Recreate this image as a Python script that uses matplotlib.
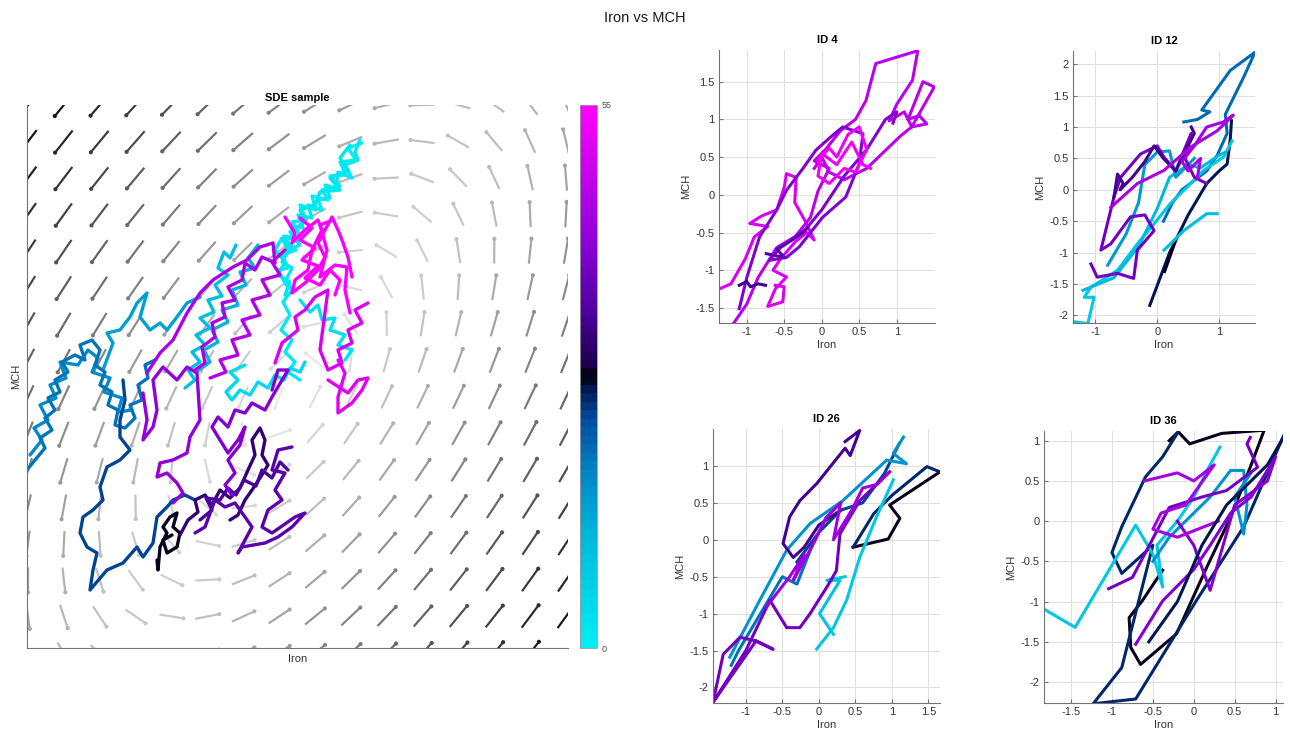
import numpy as np
import matplotlib
matplotlib.use('Agg')
import matplotlib.pyplot as plt
from matplotlib.colors import LinearSegmentedColormap

plt.rcParams['font.family'] = ['Liberation Sans', 'DejaVu Sans']

# ---- data -------------------------------------------------------------
t_max = 55

# colormap anchors (cyan -> blue -> black -> purple -> magenta)
cmap_anchors = [(0.00, (0.00, 0.93, 0.96)), (0.20, (0.00, 0.72, 0.86)),
                (0.32, (0.00, 0.52, 0.78)), (0.42, (0.00, 0.30, 0.62)),
                (0.48, (0.00, 0.08, 0.30)), (0.50, (0.00, 0.00, 0.00)),
                (0.52, (0.10, 0.00, 0.30)), (0.62, (0.30, 0.00, 0.62)),
                (0.75, (0.55, 0.00, 0.85)), (0.88, (0.78, 0.00, 0.93)),
                (1.00, (1.00, 0.00, 1.00))]

# drift of the SDE (linear), read from the direction field
drift = [[-1.13, 1.59], [-2.41, 1.13]]
drift_center = [-0.1, -0.15]

# SDE sample path, pieces of (time, x, y)
sde_pieces = [
    (0, [0.62, 0.48, 0.56, 0.40, 0.46, 0.30, 0.40, 0.22, 0.28, 0.12, 0.16, 0.00, 0.06, -0.08, 0.00, -0.14, -0.04,
         -0.18, -0.12, -0.22, -0.14],
        [2.37, 2.32, 2.20, 2.18, 2.05, 2.04, 1.94, 1.90, 1.80, 1.84, 1.70, 1.75, 1.60, 1.58, 1.45, 1.40, 1.30,
         1.25, 1.12, 1.10, 0.95]),
    (1, [0.60, 0.55, 0.58, 0.45, 0.52, 0.38, 0.36, 0.25, 0.30, 0.18, 0.22, 0.08, 0.12, -0.02, 0.03, -0.10, -0.04, -0.16,
         -0.10, -0.18, -0.08, -0.14, -0.08, -0.17, -0.10, -0.19, -0.08, -0.15, -0.05, -0.12, 0.00],
        [2.40, 2.28, 2.20, 2.15, 2.02, 2.08, 1.92, 1.95, 1.82, 1.80, 1.70, 1.75, 1.62, 1.65, 1.52, 1.55, 1.42, 1.44,
         1.32, 1.18, 1.12, 1.00, 0.90, 0.78, 0.65, 0.50, 0.40, 0.28, 0.18, 0.08, 0.00]),
    (2, [0.50, 0.40, 0.48, 0.30, 0.40, 0.20, 0.15, 0.00, 0.05, -0.10, 0.00, -0.12, -0.18, -0.25, -0.15, -0.22, -0.10, -0.15],
        [2.35, 2.22, 2.10, 2.02, 1.90, 1.88, 1.75, 1.70, 1.58, 1.48, 1.35, 1.30, 1.42, 1.30, 1.18, 1.05, 0.98, 0.85]),
    (3, [0.00, 0.10, 0.18, 0.22, 0.35, 0.30, 0.45, 0.38, 0.52, 0.45],
        [0.80, 0.68, 0.75, 0.60, 0.62, 0.50, 0.45, 0.35, 0.30, 0.20]),
    (5, [0.05, 0.00, -0.10, -0.16, -0.25, -0.32, -0.42, -0.50, -0.60, -0.68, -0.74, -0.62, -0.70, -0.55],
        [0.18, 0.08, 0.12, 0.00, 0.05, -0.08, -0.02, -0.15, -0.10, -0.20, -0.12, 0.00, 0.08, 0.15]),
    (10, [-0.64, -0.70, -0.76, -0.82, -0.72, -0.85, -0.78, -0.92, -0.86, -1.00, -0.90, -1.04, -0.95, -1.08, -1.00, -1.12, -1.05, -1.15],
         [1.35, 1.22, 1.28, 1.12, 1.05, 0.95, 0.84, 0.80, 0.68, 0.62, 0.52, 0.45, 0.35, 0.28, 0.18, 0.10, 0.00, -0.08]),
    (12, [-0.42, -0.52, -0.45, -0.60, -0.54, -0.68, -0.62, -0.78, -0.72, -0.88, -0.82, -0.96, -0.90, -1.04],
         [1.35, 1.22, 1.12, 1.08, 0.95, 0.90, 0.75, 0.70, 0.58, 0.50, 0.38, 0.30, 0.18, 0.08]),
    (14, [-1.97, -1.87, -1.93, -1.80, -1.70, -1.63, -1.53, -1.60, -1.50, -1.40, -1.33, -1.23, -1.13, -1.00],
         [0.10, 0.37, 0.47, 0.50, 0.63, 0.77, 0.87, 0.63, 0.50, 0.57, 0.50, 0.63, 0.77, 0.83]),
    (17, [-2.70, -2.58, -2.66, -2.52, -2.60, -2.44, -2.50, -2.34, -2.40, -2.22, -2.12, -2.02, -2.08, -1.90, -1.96,
          -1.78, -1.82, -1.68],
         [-0.75, -0.60, -0.48, -0.40, -0.25, -0.18, -0.05, 0.02, 0.18, 0.15, 0.30, 0.22, 0.08, 0.02, -0.12,
          -0.18, -0.32, -0.30]),
    (19, [-2.73, -2.65, -2.55, -2.60, -2.48, -2.55, -2.45, -2.52, -2.40, -2.45, -2.32, -2.38, -2.25, -2.15, -2.20, -2.08,
          -2.00, -2.05, -1.95, -2.00, -1.88, -1.92, -1.82, -1.85, -1.75, -1.65, -1.70, -1.58, -1.62, -1.52, -1.55, -1.45],
         [-0.90, -0.80, -0.68, -0.58, -0.50, -0.38, -0.30, -0.18, -0.12, 0.00, 0.08, 0.18, 0.25, 0.20, 0.35, 0.40,
          0.30, 0.15, 0.08, -0.05, -0.12, -0.25, -0.30, -0.45, -0.48, -0.38, -0.25, -0.20, -0.05, 0.02, 0.15, 0.20]),
    (24, [-1.77, -1.75, -1.80, -1.80, -1.70, -1.80, -1.93, -2.00, -1.97, -2.07, -2.17, -2.20, -2.13, -2.03, -2.07, -2.10,
          -1.93, -1.77, -1.63, -1.57, -1.47, -1.43, -1.33, -1.27, -1.15, -1.05],
         [0.00, -0.20, -0.40, -0.57, -0.70, -0.80, -0.87, -1.07, -1.20, -1.30, -1.37, -1.53, -1.67, -1.73, -1.90, -2.10,
          -1.90, -1.83, -1.67, -1.77, -1.63, -1.37, -1.27, -1.20, -1.15, -1.20]),
    (27.5, [-1.43, -1.42, -1.40, -1.33, -1.37, -1.30, -1.23, -1.27, -1.20, -1.23, -1.33, -1.37, -1.28],
           [-1.80, -1.90, -1.67, -1.53, -1.47, -1.37, -1.33, -1.47, -1.53, -1.67, -1.73, -1.60, -1.55]),
    (31, [-1.20, -1.12, -1.02, -1.05, -0.95, -0.88, -0.80, -0.70, -0.60, -0.52, -0.45, -0.48, -0.40, -0.35, -0.38,
          -0.32, -0.40, -0.48, -0.55, -0.62, -0.70],
         [-1.55, -1.40, -1.32, -1.20, -1.15, -1.25, -1.10, -1.18, -1.08, -0.90, -0.75, -0.60, -0.48, -0.60, -0.75,
          -0.85, -0.98, -1.10, -1.20, -1.35, -1.40]),
    (34, [-1.00, -0.88, -0.94, -0.80, -0.72, -0.64, -0.56, -0.44, -0.38, -0.28, -0.20, -0.12],
         [-1.40, -1.30, -1.18, -1.20, -1.08, -1.15, -1.00, -1.06, -0.90, -0.98, -0.82, -0.90]),
    (36, [-1.05, -0.95, -0.85, -0.75, -0.65, -0.55, -0.48, -0.55, -0.62, -0.58, -0.35, -0.22, -0.08, 0.05, -0.05,
          -0.28, -0.38, -0.32, -0.18, -0.25, -0.15, -0.28, -0.22, -0.08],
         [-1.53, -1.47, -1.20, -1.27, -1.23, -1.37, -1.47, -1.60, -1.73, -1.67, -1.63, -1.57, -1.47, -1.33, -1.37,
          -1.53, -1.47, -1.30, -1.20, -1.10, -0.93, -0.90, -0.70, -0.67]),
    (40, [-0.68, -0.75, -0.65, -0.72, -0.60, -0.55, -0.62, -0.72, -0.88, -0.82, -0.72, -0.65, -0.55, -0.48, -0.35,
          -0.28, -0.12, -0.22, -0.28],
         [-1.15, -1.05, -0.93, -0.80, -0.65, -0.47, -0.60, -0.73, -0.47, -0.37, -0.47, -0.30, -0.33, -0.23, -0.30,
          -0.17, 0.10, 0.10, -0.10]),
    (42, [-1.57, -1.53, -1.57, -1.47, -1.43, -1.47, -1.37, -1.23, -1.13, -1.03, -1.00, -1.10, -1.13, -1.27, -1.40,
          -1.43, -1.33, -1.23, -1.17, -1.27],
         [-0.13, -0.40, -0.60, -0.47, -0.30, 0.00, 0.13, 0.00, 0.13, 0.07, -0.40, -0.57, -0.73, -0.80, -0.83,
          -0.97, -0.93, -1.03, -1.13, -1.23]),
    (45, [-1.53, -1.40, -1.27, -1.13, -1.00, -0.87, -0.67, -0.53, -0.40, -0.27, -0.25, -0.38, -0.45, -0.55, -0.58,
          -0.72, -0.65, -0.78, -0.75, -0.88, -0.85, -0.98, -0.95, -1.05],
         [0.07, 0.27, 0.40, 0.67, 0.87, 1.00, 1.13, 1.20, 1.33, 1.37, 1.17, 1.23, 1.10, 1.17, 1.00,
          0.93, 0.80, 0.77, 0.63, 0.57, 0.43, 0.33, 0.17, 0.10]),
    (46, [-0.15, -0.28, -0.20, -0.38, -0.30, -0.48, -0.40, -0.58, -0.50, -0.68, -0.62, -0.80, -0.74, -0.90],
         [1.30, 1.18, 1.05, 1.00, 0.85, 0.80, 0.65, 0.60, 0.45, 0.40, 0.25, 0.20, 0.08, 0.02]),
    (50, [0.68, 0.55, 0.62, 0.48, 0.52, 0.38, 0.42, 0.28, 0.20, 0.28, 0.15, 0.05, -0.05, -0.02, -0.18, -0.25],
         [0.77, 0.70, 0.57, 0.50, 0.37, 0.30, 0.17, 0.10, 0.30, 0.90, 0.83, 0.70, 0.63, 0.50, 0.37, 0.17]),
    (51, [0.38, 0.45, 0.38, 0.38, 0.52, 0.62, 0.68, 0.58, 0.48, 0.28],
         [0.20, 0.07, -0.17, -0.33, -0.23, -0.10, 0.02, 0.00, -0.13, 0.00]),
    (54, [-0.15, -0.05, -0.08, 0.05, 0.18, 0.22, 0.12, 0.08, -0.05, -0.08, 0.05, 0.18, 0.25, 0.18, 0.32, 0.38, 0.42,
          0.48, 0.52],
         [1.63, 1.47, 1.37, 1.50, 1.60, 1.50, 1.30, 1.10, 1.00, 0.87, 0.97, 1.10, 1.23, 1.37, 1.63, 1.50, 1.40,
          1.23, 1.03]),
    (55, [0.33, 0.20, 0.27, 0.20, 0.35, 0.47, 0.45, 0.50],
         [1.60, 1.55, 1.30, 1.03, 1.15, 1.13, 0.90, 0.67]),
    (55, [0.00, 0.12, 0.00, 0.15, 0.02, 0.18, 0.05, 0.20, 0.30, 0.40, 0.35],
         [1.62, 1.52, 1.40, 1.32, 1.20, 1.14, 1.02, 0.95, 1.10, 1.00, 0.85]),
]

# patient trajectories, pieces of (time, Iron, MCH)
id4_pieces = [
    (50, [-1.37, -1.21, -1.02, -0.90, -0.72, -0.96, -0.80, -0.60, -0.50, -0.47, -0.34, -0.36, -0.22, -0.10, -0.20,
          -0.35, -0.55, -0.65, -0.47, -0.62, -0.72, -0.52, -0.50, -0.62],
         [-1.25, -1.18, -0.85, -0.56, -0.42, -0.38, -0.28, -0.20, 0.10, 0.28, 0.23, -0.10, -0.35, -0.60, -0.50,
          -0.62, -0.85, -1.00, -1.09, -1.25, -1.48, -1.42, -1.22, -1.20]),
    (47, [-1.18, -1.00, -0.85, -0.60, -0.35, -0.15, -0.05, 0.10, -0.10, 0.05, 0.25, 0.45, 0.59, 0.72, 1.28, 1.21,
          1.00, 0.90, 1.10, 1.20, 1.40, 1.30, 1.15, 1.35, 1.50, 1.20, 1.05, 0.60, 0.30, 0.10, 0.00, -0.10],
         [-1.71, -1.45, -1.10, -0.70, -0.55, -0.30, 0.05, 0.35, 0.45, 0.60, 0.85, 1.00, 1.25, 1.74, 1.91, 1.52,
          1.20, 0.98, 1.10, 0.90, 0.94, 1.05, 1.00, 1.50, 1.43, 0.90, 0.78, 0.35, 0.20, 0.30, 0.50, 0.35]),
    (40, [-1.10, -1.00, -0.83, -0.60, -0.47, -0.25, -0.08, 0.10, 0.28, 0.55, 0.50, 0.32, 0.01, -0.30, -0.47, -0.70,
          -0.55, -0.25, 0.00, 0.30, 0.60, 0.85, 1.00, 0.95],
         [-1.51, -1.10, -0.56, -0.20, 0.06, 0.35, 0.59, 0.75, 0.90, 0.81, 0.41, -0.03, -0.30, -0.69, -0.83, -0.87,
          -0.70, -0.50, -0.20, 0.25, 0.60, 1.00, 1.10, 0.95]),
    (33, [-1.10, -1.00, -0.95, -0.85, -0.75], [-1.20, -1.15, -1.22, -1.18, -1.20]),
    (36, [-0.74, -0.65, -0.50, -0.60, -0.40, -0.20], [-0.78, -0.80, -0.83, -0.72, -0.60, -0.45]),
    (53, [-0.05, 0.10, 0.20, 0.35, 0.50, 0.60, 0.45, 0.30, 0.10, -0.05, 0.00, 0.20, 0.40, 0.55, 0.65],
         [0.45, 0.62, 0.50, 0.80, 0.90, 0.60, 0.30, 0.35, 0.15, 0.25, 0.55, 0.40, 0.70, 0.40, 0.35]),
]
id12_pieces = [
    (20, [0.43, 0.65, 0.85, 0.72, 1.18, 1.58, 1.40, 1.10, 1.13, 0.97, 0.80, 0.60, 0.40, 0.25, 0.10],
         [1.08, 1.12, 1.24, 1.27, 1.90, 2.19, 1.80, 1.20, 0.90, 0.55, 0.30, 0.15, 0.00, -0.20, -0.50]),
    (26, [-0.12, 0.20, 0.50, 0.80, 1.00, 1.13, 1.18, 1.20], [-1.84, -1.00, -0.40, 0.10, 0.30, 0.41, 0.80, 1.10]),
    (27.5, [0.12, 0.30], [-1.30, -0.80]),
    (8, [-1.34, -1.12, -1.02, -1.18, -1.07, -0.64, -0.32, -0.05, 0.21, 0.54, 0.75, 1.07, 1.21],
        [-2.10, -2.13, -1.71, -1.71, -1.55, -1.28, -0.86, -0.54, -0.22, 0.10, 0.31, 0.52, 0.78]),
    (10, [0.11, 0.43, 0.80, 0.97], [-0.96, -0.65, -0.38, -0.38]),
    (11, [-1.20, -0.70, -0.30, 0.00, 0.20, 0.50, 0.70, 1.00, 1.10], [-1.60, -1.40, -0.90, -0.30, 0.20, 0.40, 0.35, 0.55, 0.60]),
    (15, [-0.80, -0.50, -0.30, -0.20, 0.00, 0.20, 0.30, 0.50, 0.60], [-1.20, -0.70, -0.20, 0.40, 0.60, 0.62, 0.20, 0.40, 0.50]),
    (38, [-1.07, -0.97, -0.64, -0.38, -0.32, -0.05, -0.20, -0.43, -0.75, -0.91, -0.70, -0.59, -0.27, 0.00, 0.11, 0.30,
          0.40, 0.55, 0.45, 0.60, 0.80],
         [-1.18, -1.39, -1.33, -1.41, -0.96, -0.65, -0.40, -0.43, -0.86, -0.96, -0.12, 0.20, 0.57, 0.70, 0.52, 0.30,
          0.55, 0.90, 0.50, 0.20, 0.10]),
    (33, [-0.70, -0.64, -0.55, -0.60, -0.40, -0.20, -0.05, 0.10, 0.30, 0.45, 0.60, 0.55],
         [-0.12, 0.25, 0.10, 0.00, 0.20, 0.45, 0.70, 0.50, 0.30, 0.60, 0.90, 1.00]),
    (44, [-0.75, -0.32, 0.11, 0.54, 0.97, 1.23, 1.07, 0.80, 0.60, 0.40, 0.50, 0.70, 0.65],
         [-0.28, 0.10, 0.31, 0.68, 0.94, 1.19, 1.08, 1.00, 0.70, 0.45, 0.30, 0.50, 0.20]),
]
id26_pieces = [
    (27.5, [0.47, 0.95, 1.11, 0.97, 1.66], [-0.10, 0.01, 0.29, 0.47, 0.92]),
    (25, [0.47, 0.75, 1.00, 1.48, 1.66], [-0.10, 0.35, 0.60, 0.99, 0.92]),
    (24, [-0.30, 0.00, 0.30, 0.60, 0.75, 0.90, 1.10], [-0.30, 0.10, 0.40, 0.50, 0.70, 0.90, 1.30]),
    (8, [-0.03, 0.20, 0.38, 0.56, 0.79, 1.02], [-1.48, -1.19, -0.82, -0.24, 0.31, 0.81]),
    (9, [0.20, 0.01, 0.29, 0.11, 0.36], [-1.28, -1.00, -0.55, -0.55, -0.50]),
    (16, [-1.22, -0.81, -0.44, -0.12, 0.33, 0.93, 1.20, 1.02, 1.16], [-1.59, -0.82, -0.14, 0.22, 0.53, 1.08, 1.03, 1.17, 1.39]),
    (19, [-1.20, -1.10, -0.80, -0.50, -0.30, -0.10, 0.10, 0.30], [-1.70, -1.50, -1.00, -0.50, -0.60, -0.10, 0.30, 0.50]),
    (33, [0.36, 0.56, 0.43, 0.36, -0.03, -0.26, -0.40, -0.49, -0.35, -0.20, 0.00, 0.30],
         [1.33, 1.48, 1.14, 1.24, 0.76, 0.53, 0.31, -0.05, -0.24, -0.10, 0.20, 0.40]),
    (38, [-1.45, -1.31, -1.08, -0.86, -0.63, -0.86, -1.45, -1.00, -0.67, -0.44, -0.26, -0.12, 0.11, 0.24, 0.29, 0.56, 0.97],
         [-2.20, -1.55, -1.32, -1.37, -1.48, -1.37, -2.20, -1.50, -0.82, -1.19, -1.19, -1.00, -0.64, -0.42, 0.08, 0.53, 0.92]),
    (43, [-0.72, -0.40, -0.20, -0.35, -0.10, 0.10, 0.30, 0.20, 0.45, 0.60, 0.80, 0.95],
         [-0.91, -0.50, -0.20, -0.55, -0.10, 0.30, 0.50, 0.00, 0.40, 0.70, 0.75, 0.90]),
]
id36_pieces = [
    (27.5, [-0.30, -0.19, -0.05, 0.34, 0.86, 0.69, 0.45, 0.16, -0.21, -0.65, -0.77, -0.79, -0.63, -0.38],
           [1.00, 1.11, 0.96, 1.09, 1.13, 0.67, 0.05, -0.57, -1.40, -1.78, -1.57, -1.20, -0.99, -0.61]),
    (25, [-0.19, -0.38, -0.59, -0.88, -1.00, -0.88, -0.50, -0.88, -1.23, -0.71, 0.03, 0.61, 1.11],
         [1.11, 0.80, 0.55, -0.07, -0.39, -0.65, -0.30, -1.82, -2.27, -2.21, -0.99, -0.07, 1.09]),
    (8, [-1.87, -1.45, -0.71, -0.50, -0.38, -0.45, -0.20, 0.00, 0.20, 0.32],
        [-1.07, -1.32, -0.05, -0.41, -0.82, -0.30, 0.00, 0.30, 0.70, 0.92]),
    (16, [-0.50, -0.30, 0.00, 0.20, 0.45, 0.61, 0.65, 0.61, 0.50, 0.70],
         [-0.50, -0.20, 0.10, 0.30, 0.63, 0.63, 0.20, -0.16, 0.30, 0.60]),
    (38, [-1.04, -0.75, -0.30, 0.10, 0.40, 0.78, 0.65, 0.69], [-0.84, -0.70, 0.17, 0.30, 0.38, 0.67, 0.96, 1.04]),
    (40, [-0.71, -0.38, 0.00, 0.20, 0.45, 0.70, 1.00, 0.90, 0.50, 0.20, 0.00, -0.20],
         [-1.53, -0.99, -0.60, -0.30, 0.10, 0.30, 0.80, 0.50, 0.20, -0.86, -0.30, 0.00]),
    (44, [-0.60, -0.40, -0.20, 0.00, 0.25, -0.10, -0.40, -0.50, -0.20, 0.30],
         [0.50, 0.55, 0.60, 0.50, 0.70, 0.20, 0.10, -0.10, -0.20, 0.00]),
    (26, [-0.55, -0.20, 0.10, 0.40, 0.70, 0.90, 1.10], [-1.50, -1.00, -0.30, 0.20, 0.50, 0.70, 1.05]),
]

panels = [
    ('ID 4', id4_pieces, (-1.37, 1.51), (-1.70, 1.92), [-1, -0.5, 0, 0.5, 1], [-1.5, -1, -0.5, 0, 0.5, 1, 1.5]),
    ('ID 12', id12_pieces, (-1.36, 1.58), (-2.12, 2.21), [-1, 0, 1], [-2, -1.5, -1, -0.5, 0, 0.5, 1, 1.5, 2]),
    ('ID 26', id26_pieces, (-1.45, 1.66), (-2.21, 1.50), [-1, -0.5, 0, 0.5, 1, 1.5], [-2, -1.5, -1, -0.5, 0, 0.5, 1]),
    ('ID 36', id36_pieces, (-1.83, 1.09), (-2.26, 1.12), [-1.5, -1, -0.5, 0, 0.5, 1], [-2, -1.5, -1, -0.5, 0, 0.5, 1]),
]

# ---- figure ------------------------------------------------------------
W, H = 1290, 732
cmap = LinearSegmentedColormap.from_list('sde', cmap_anchors, N=64)
axis_gray = '0.45'
text_gray = '0.2'


def frac(left, top, right, bottom):
    return [left / W, 1 - bottom / H, (right - left) / W, (bottom - top) / H]


fig = plt.figure(figsize=(W / 100, H / 100), dpi=100)
fig.text(0.5, 1 - 18 / H, 'Iron vs MCH', ha='center', va='center', fontsize=10.5, color='0.1')

# left: field + SDE sample
ax = fig.add_axes(frac(27, 105, 568, 648))
xlim, ylim = (-2.73, 2.68), (-2.68, 2.75)
gx, gy = np.meshgrid(np.linspace(-2.72, 2.66, 16), np.linspace(-2.73, 2.75, 16))
A = np.array(drift)
dx, dy = gx - drift_center[0], gy - drift_center[1]
fu = A[0, 0] * dx + A[0, 1] * dy
fv = A[1, 0] * dx + A[1, 1] * dy
mag = np.hypot(fu, fv)
rel = mag / mag.max()
seg = 0.29 * (0.8 + 0.2 * rel)
u = fu / mag * seg
v = fv / mag * seg
gray = 0.93 * (1 - rel) ** 0.9
cols = np.stack([gray.ravel()] * 3, axis=1)
ax.quiver(gx.ravel(), gy.ravel(), u.ravel(), v.ravel(), color=cols, pivot='middle',
          angles='xy', scale_units='xy', scale=1, headwidth=0, headlength=0,
          headaxislength=0, width=0.0040, zorder=1)
ax.scatter((gx - u / 2).ravel(), (gy - v / 2).ravel(), s=9, c=cols, linewidths=0, zorder=1)

for t, xs, ys in sde_pieces:
    ax.plot(xs, ys, color=cmap(t / t_max), lw=2.4, solid_joinstyle='round',
            solid_capstyle='round', zorder=2)

ax.set_xlim(xlim)
ax.set_ylim(ylim)
ax.set_xticks([])
ax.set_yticks([])
for s in ('top', 'right'):
    ax.spines[s].set_visible(False)
for s in ('left', 'bottom'):
    ax.spines[s].set_color(axis_gray)
    ax.spines[s].set_linewidth(0.8)
ax.set_title('SDE sample', fontsize=8, fontweight='bold', pad=3)
ax.set_xlabel('Iron', fontsize=8, color=text_gray, labelpad=4)
ax.set_ylabel('MCH', fontsize=8, color=text_gray, labelpad=4)

cax = fig.add_axes(frac(580, 105, 597, 648))
sm = plt.cm.ScalarMappable(cmap=cmap, norm=plt.Normalize(0, t_max))
cb = fig.colorbar(sm, cax=cax, ticks=[0, t_max])
cb.outline.set_edgecolor('0.6')
cb.outline.set_linewidth(0.6)
cax.tick_params(length=0, labelsize=6.5, labelcolor='0.3', pad=3)
cax.set_yticklabels(['0', '55'])

# right: four patients
boxes = [(719, 50, 935, 323), (1073, 51, 1255, 323), (713, 429, 940, 703), (1044, 431, 1283, 703)]
for (title, pieces, xl, yl, xt, yt), box in zip(panels, boxes):
    a = fig.add_axes(frac(*box))
    for t, xs, ys in pieces:
        a.plot(xs, ys, color=cmap(t / t_max), lw=2.2, solid_joinstyle='round', zorder=2)
    a.set_xlim(xl)
    a.set_ylim(yl)
    a.set_xticks(xt)
    a.set_yticks(yt)
    a.set_xticklabels([f'{x:g}' for x in xt])
    a.set_yticklabels([f'{y:g}' for y in yt])
    a.grid(True, color='0.88', lw=0.7, zorder=0)
    a.set_axisbelow(True)
    for s in ('top', 'right'):
        a.spines[s].set_visible(False)
    for s in ('left', 'bottom'):
        a.spines[s].set_color(axis_gray)
        a.spines[s].set_linewidth(0.8)
    a.tick_params(direction='in', length=3, color=axis_gray, labelsize=8, labelcolor=text_gray, pad=3)
    a.set_title(title, fontsize=8, fontweight='bold', pad=5)
    a.set_xlabel('Iron', fontsize=8, color=text_gray, labelpad=2)
    a.set_ylabel('MCH', fontsize=8, color=text_gray, labelpad=3)

fig.savefig('out.png', dpi=100)
